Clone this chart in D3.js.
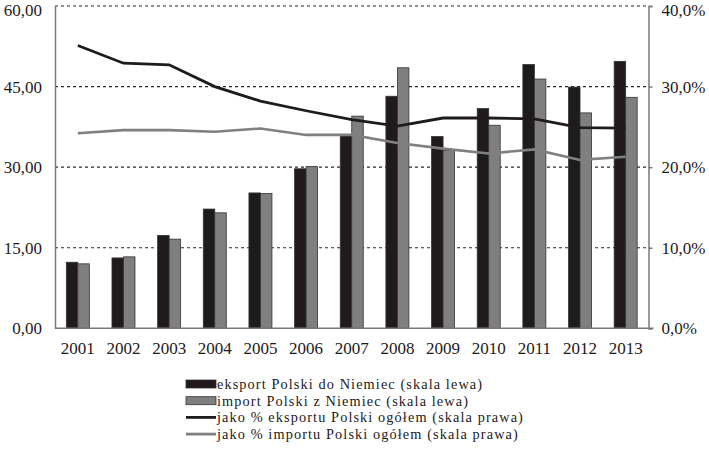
<!DOCTYPE html>
<html>
<head>
<meta charset="utf-8">
<script src="https://cdn.jsdelivr.net/npm/d3@7/dist/d3.min.js"></script>
<style>
  html, body { margin: 0; padding: 0; background: #fff; }
  svg { display: block; }
  text { font-family: "Liberation Serif", "DejaVu Serif", serif; fill: #1e1a1b; }
</style>
</head>
<body>
<svg id="chart" width="709" height="472"></svg>
<script>
const years = ["2001","2002","2003","2004","2005","2006","2007","2008","2009","2010","2011","2012","2013"];
const exportVal = [12.3, 13.1, 17.3, 22.2, 25.2, 29.7, 35.8, 43.2, 35.7, 40.9, 49.1, 44.9, 49.7];
const importVal = [12.0, 13.3, 16.6, 21.5, 25.1, 30.1, 39.5, 48.5, 33.1, 37.8, 46.4, 40.1, 43.0];
const exportShare = [35.1, 32.9, 32.7, 30.0, 28.2, 27.0, 25.9, 25.1, 26.1, 26.1, 26.0, 24.9, 24.85];
const importShare = [24.2, 24.6, 24.6, 24.4, 24.8, 24.0, 24.0, 23.0, 22.3, 21.7, 22.2, 20.9, 21.3];
const leftTicks = [0, 15, 30, 45, 60];
const rightTicks = [0, 10, 20, 30, 40];
const legendLabels = [
  "eksport Polski do Niemiec (skala lewa)",
  "import Polski z Niemiec (skala lewa)",
  "jako % eksportu Polski ogółem (skala prawa)",
  "jako % importu Polski ogółem (skala prawa)"
];

const svg = d3.select("#chart");
const L = 55, R = 648.5, T = 6, B = 328.3;
const cBlack = "#1f1b1c", cGray = "#7f7f7f", cAxis = "#7a7a7a";
const serif = '"Liberation Serif", "DejaVu Serif", serif';

const x = d3.scaleBand().domain(years).range([L, R]).paddingInner(0).paddingOuter(0);
const xs = d3.scaleBand().domain([0, 1]).range([0, 23]);
const yL = d3.scaleLinear().domain([0, 60]).range([B, T]);
const yR = d3.scaleLinear().domain([0, 40]).range([B, T]);

// gridlines
svg.append("g").selectAll("line").data(leftTicks.filter(d => d > 0)).join("line")
  .attr("x1", L).attr("x2", R)
  .attr("y1", d => yL(d)).attr("y2", d => yL(d))
  .attr("stroke", "#2a2a2a").attr("stroke-width", 1.2).attr("stroke-dasharray", "3,3");

// bars
const grp = svg.append("g");
const off = d => x(d) + (x.bandwidth() - 23) / 2;
grp.selectAll("rect.exp").data(years).join("rect").attr("class", "exp")
  .attr("x", (d) => off(d) + xs(0)).attr("width", xs.bandwidth())
  .attr("y", (d, i) => yL(exportVal[i])).attr("height", (d, i) => B - yL(exportVal[i]))
  .attr("fill", cBlack).attr("stroke", "#333").attr("stroke-width", 0.8);
grp.selectAll("rect.imp").data(years).join("rect").attr("class", "imp")
  .attr("x", (d) => off(d) + xs(1)).attr("width", xs.bandwidth())
  .attr("y", (d, i) => yL(importVal[i])).attr("height", (d, i) => B - yL(importVal[i]))
  .attr("fill", cGray).attr("stroke", "#333").attr("stroke-width", 0.8);

// lines
const cx = d => x(d) + x.bandwidth() / 2;
const lineGen = arr => d3.line().x((d) => cx(d)).y((d, i) => yR(arr[i]))(years);
svg.append("path").attr("d", lineGen(importShare)).attr("fill", "none")
  .attr("stroke", "#808080").attr("stroke-width", 2.6);
svg.append("path").attr("d", lineGen(exportShare)).attr("fill", "none")
  .attr("stroke", cBlack).attr("stroke-width", 2.8);

// axes
const axL = svg.append("g").attr("transform", `translate(${L},0)`)
  .call(d3.axisLeft(yL).tickValues(leftTicks).tickSize(0).tickPadding(13)
    .tickFormat(d => d3.format(".2f")(d).replace(".", ",")));
axL.attr("font-family", serif);
axL.select(".domain").attr("stroke", cAxis).attr("stroke-width", 1.5);
axL.selectAll("text").attr("font-size", 17).style("font-family", serif);

const axR = svg.append("g").attr("transform", `translate(${R},0)`)
  .call(d3.axisRight(yR).tickValues(rightTicks).tickSize(4).tickPadding(9)
    .tickFormat(d => d3.format(".1f")(d).replace(".", ",") + "%"));
axR.attr("font-family", serif);
axR.select(".domain").attr("stroke", cAxis).attr("stroke-width", 1.5);
axR.selectAll(".tick line").attr("stroke", cAxis).attr("stroke-width", 1.5);
axR.selectAll("text").attr("font-size", 17).style("font-family", serif);

// keep the topmost tick labels inside the picture
axL.selectAll(".tick").filter(d => d === 60).select("text").attr("y", 4);
axR.selectAll(".tick").filter(d => d === 40).select("text").attr("y", 4);

const axB = svg.append("g").attr("transform", `translate(0,${B})`)
  .call(d3.axisBottom(x).tickSize(0).tickPadding(14).tickSizeOuter(0));
axB.attr("font-family", serif);
axB.select(".domain").attr("d", `M${L},0H${R + 5}`).attr("stroke", cAxis).attr("stroke-width", 1.5);
axB.selectAll("text").attr("font-size", 17).style("font-family", serif);

// legend
const lg = svg.append("g").attr("transform", "translate(186,384)");
const rowH = 16.7;
legendLabels.forEach((lab, i) => {
  const g = lg.append("g").attr("transform", `translate(0,${i * rowH})`);
  if (i < 2) {
    g.append("rect").attr("x", 0).attr("y", -4).attr("width", 30).attr("height", 8)
      .attr("fill", i === 0 ? cBlack : cGray).attr("stroke", "#333").attr("stroke-width", 0.8);
  } else {
    g.append("line").attr("x1", 0).attr("x2", 30).attr("y1", 0).attr("y2", 0)
      .attr("stroke", i === 2 ? cBlack : "#808080").attr("stroke-width", 2.8);
  }
  g.append("text").attr("x", 31).attr("y", 0).attr("dy", "0.35em")
    .attr("font-size", 14.3).attr("letter-spacing", 1.1)
    .style("font-family", serif).text(lab);
});
</script>
</body>
</html>
